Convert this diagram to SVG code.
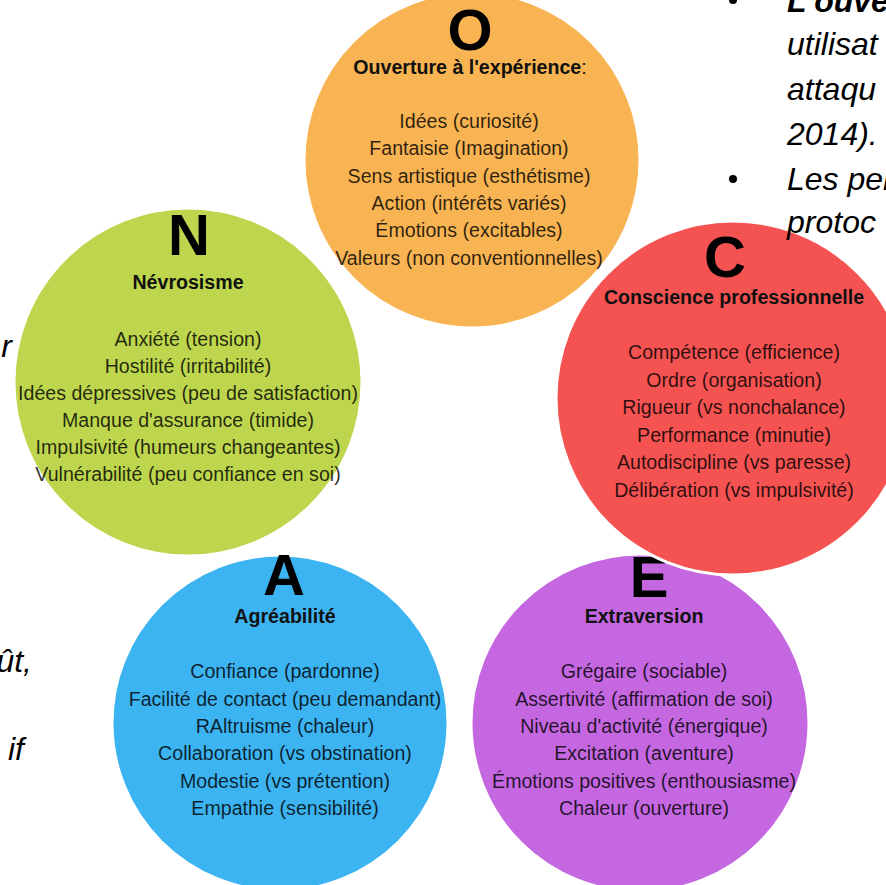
<svg xmlns="http://www.w3.org/2000/svg" width="886" height="885" viewBox="0 0 886 885">
  <style>
    .disc { stroke: #ffffff; stroke-width: 3; }
    .letter { font-family: "Liberation Sans", Arial, sans-serif; font-weight: bold; font-size: 58px; fill: #000; text-anchor: middle; }
    .title { font-family: "Liberation Sans", Arial, sans-serif; font-weight: bold; font-size: 19.6px; fill: #111; text-anchor: middle; }
    .item { font-family: "Liberation Sans", Arial, sans-serif; font-size: 19.6px; fill: #000; fill-opacity: 0.82; text-anchor: middle; }
    .slide { font-family: "Liberation Sans", Arial, sans-serif; font-style: italic; font-size: 32px; fill: #000; }
  </style>
  <rect width="886" height="885" fill="#ffffff"/>

  <!-- Openness -->
  <g id="node-O">
    <circle class="disc" cx="472" cy="160" r="168" fill="#F8B452"/>
    <text class="letter" x="470" y="50">O</text>
    <text class="title" x="470" y="74">Ouverture à l'expérience<tspan font-weight="normal">:</tspan></text>
    <text class="item" x="469" y="128">Idées (curiosité)</text>
    <text class="item" x="469" y="155">Fantaisie (Imagination)</text>
    <text class="item" x="469" y="183">Sens artistique (esthétisme)</text>
    <text class="item" x="469" y="210">Action (intérêts variés)</text>
    <text class="item" x="469" y="237">Émotions (excitables)</text>
    <text class="item" x="469" y="265">Valeurs (non conventionnelles)</text>
  </g>

  <!-- Neuroticism -->
  <g id="node-N">
    <circle class="disc" cx="188" cy="382" r="174" fill="#BED64D"/>
    <text class="letter" x="189" y="255">N</text>
    <text class="title" x="188" y="289">Névrosisme</text>
    <text class="item" x="188" y="346">Anxiété (tension)</text>
    <text class="item" x="188" y="373">Hostilité (irritabilité)</text>
    <text class="item" x="188" y="400">Idées dépressives (peu de satisfaction)</text>
    <text class="item" x="188" y="427">Manque d'assurance (timide)</text>
    <text class="item" x="188" y="454">Impulsivité (humeurs changeantes)</text>
    <text class="item" x="188" y="481">Vulnérabilité (peu confiance en soi)</text>
  </g>

  <!-- Extraversion -->
  <g id="node-E">
    <circle class="disc" cx="640" cy="723" r="169" fill="#C467E0"/>
    <text class="letter" x="649" y="597">E</text>
    <text class="title" x="644" y="623">Extraversion</text>
    <text class="item" x="644" y="678">Grégaire (sociable)</text>
    <text class="item" x="644" y="706">Assertivité (affirmation de soi)</text>
    <text class="item" x="644" y="733">Niveau d'activité (énergique)</text>
    <text class="item" x="644" y="760">Excitation (aventure)</text>
    <text class="item" x="644" y="788">Émotions positives (enthousiasme)</text>
    <text class="item" x="644" y="815">Chaleur (ouverture)</text>
  </g>

  <!-- Conscientiousness -->
  <g id="node-C">
    <circle class="disc" cx="733" cy="398" r="177" fill="#F45352"/>
    <text class="letter" x="725" y="277">C</text>
    <text class="title" x="734" y="304">Conscience professionnelle</text>
    <text class="item" x="734" y="359">Compétence (efficience)</text>
    <text class="item" x="734" y="387">Ordre (organisation)</text>
    <text class="item" x="734" y="414">Rigueur (vs nonchalance)</text>
    <text class="item" x="734" y="442">Performance (minutie)</text>
    <text class="item" x="734" y="469">Autodiscipline (vs paresse)</text>
    <text class="item" x="734" y="497">Délibération (vs impulsivité)</text>
  </g>

  <!-- Agreeableness -->
  <g id="node-A">
    <circle class="disc" cx="280" cy="723" r="168" fill="#3CB4F2"/>
    <text class="letter" x="284" y="595">A</text>
    <text class="title" x="285" y="623">Agréabilité</text>
    <text class="item" x="285" y="678">Confiance (pardonne)</text>
    <text class="item" x="285" y="706">Facilité de contact (peu demandant)</text>
    <text class="item" x="285" y="733">RAltruisme (chaleur)</text>
    <text class="item" x="285" y="760">Collaboration (vs obstination)</text>
    <text class="item" x="285" y="788">Modestie (vs prétention)</text>
    <text class="item" x="285" y="815">Empathie (sensibilité)</text>
  </g>

  <!-- slide text running past the frame -->
  <g id="slide-text">
    <circle cx="733" cy="0" r="4" fill="#000"/>
    <text class="slide" x="787" y="12" font-weight="bold">L'ouve</text>
    <text class="slide" x="787" y="55">utilisat</text>
    <text class="slide" x="787" y="100">attaqu</text>
    <text class="slide" x="787" y="145">2014).</text>
    <circle cx="733" cy="179" r="4" fill="#000"/>
    <text class="slide" x="787" y="190">Les per</text>
    <text class="slide" x="787" y="233">protoc</text>
    <text class="slide" x="12" y="357" text-anchor="end">r</text>
    <text class="slide" x="32" y="672" text-anchor="end">ût,</text>
    <text class="slide" x="24" y="760" text-anchor="end">if</text>
  </g>
</svg>
